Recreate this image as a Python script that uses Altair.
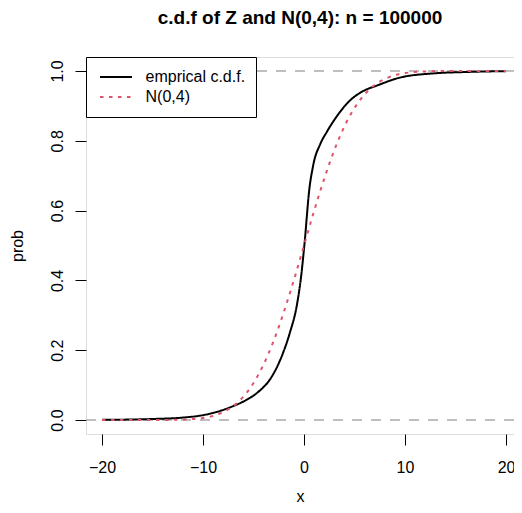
import altair as alt
import pandas as pd

# ---- data ----
series = ["emprical c.d.f.", "N(0,4)"]

emp_x = [-20, -17, -15, -12, -10, -8, -7, -6, -5, -4.35, -3.4, -2.2, -1.4, -0.7,
         -0.25, 0.0, 0.1, 0.3, 0.45, 0.9, 1.6, 2.25, 3.2, 4.5, 5.9, 7.2, 9.5,
         12.8, 16, 20]
emp_y = [0.0005, 0.0015, 0.003, 0.007, 0.014, 0.029, 0.040, 0.053, 0.070, 0.085,
         0.115, 0.183, 0.25, 0.33, 0.42, 0.49, 0.52, 0.59, 0.64, 0.728, 0.79,
         0.825, 0.868, 0.914, 0.943, 0.958, 0.981, 0.993, 0.997, 0.9995]

norm_x = [-20, -16, -14, -12, -11, -10, -9, -8, -7, -6, -5, -4, -3, -2, -1, 0,
          1, 2, 3, 4, 5, 6, 7, 8, 9, 10, 11, 12, 14, 16, 20]
norm_y = [0.0, 0.0, 0.0002, 0.0013, 0.003, 0.006, 0.012, 0.023, 0.040, 0.067,
          0.106, 0.159, 0.227, 0.309, 0.401, 0.5, 0.599, 0.691, 0.773, 0.841,
          0.894, 0.933, 0.960, 0.977, 0.988, 0.994, 0.997, 0.9987, 0.9998, 1.0, 1.0]

ref_y = [0.0, 1.0]

x_ticks = [-20, -10, 0, 10, 20]
y_ticks = [0.0, 0.2, 0.4, 0.6, 0.8, 1.0]

FONT = "Liberation Sans"

df = pd.concat([
    pd.DataFrame({"x": emp_x, "prob": emp_y, "series": series[0]}),
    pd.DataFrame({"x": norm_x, "prob": norm_y, "series": series[1]}),
], ignore_index=True)
ref = pd.DataFrame({"prob": ref_y})

xs = alt.Scale(domain=[-21.58, 20.79], nice=False, zero=False)
ys = alt.Scale(domain=[-0.04, 1.04], nice=False, zero=False)

x_axis = alt.Axis(values=x_ticks, title="x", grid=False, domain=False,
                  tickSize=11, tickColor="black", tickWidth=1,
                  labelFontSize=16, labelFont=FONT, labelColor="black",
                  labelPadding=14, labelFlush=False, labelOverlap=False,
                  titleFontSize=16, titleFont=FONT, titleFontWeight="normal",
                  titleColor="black", titleY=67, titleBaseline="alphabetic")
y_axis = alt.Axis(values=y_ticks, format=".1f", title="prob", grid=False,
                  domain=False, tickSize=11, tickColor="black", tickWidth=1,
                  labelFontSize=16, labelFont=FONT, labelColor="black",
                  labelAngle=270, labelAlign="center", labelBaseline="alphabetic",
                  labelPadding=13, labelFlush=False, labelOverlap=False,
                  titleFontSize=16, titleFont=FONT, titleFontWeight="normal",
                  titleColor="black", titleAngle=270, titleX=-64, titleY=188.5,
                  titleAlign="center", titleBaseline="alphabetic")

legend = alt.Legend(title=None, orient="none", legendX=0, legendY=0,
                    fillColor="white", strokeColor="black", padding=10,
                    symbolType="stroke", symbolSize=1024, symbolStrokeWidth=2,
                    clipHeight=20, rowPadding=-6, symbolOffset=3,
                    labelOffset=12.5, labelFontSize=16, labelFont=FONT,
                    labelColor="black", labelLimit=300)

color = alt.Color("series:N", scale=alt.Scale(domain=series, range=["#000000", "#DF536B"]),
                  legend=legend)
dash = alt.StrokeDash("series:N", scale=alt.Scale(domain=series, range=[[1, 0], [3.5, 5.5]]),
                      legend=legend)

rules = alt.Chart(ref).mark_rule(color="#A9A9A9", strokeDash=[10, 9], strokeWidth=1.5).encode(
    y=alt.Y("prob:Q", scale=ys, axis=y_axis)
)

base = alt.Chart(df)
emp = base.transform_filter(alt.datum.series == series[0]).mark_line(
    strokeWidth=2, clip=True, interpolate="monotone"
).encode(
    x=alt.X("x:Q", scale=xs, axis=x_axis),
    y=alt.Y("prob:Q", scale=ys, axis=y_axis),
    color=color, strokeDash=dash, order="x:Q"
)
nrm = base.transform_filter(alt.datum.series == series[1]).mark_line(
    strokeWidth=2, clip=True, interpolate="monotone"
).encode(
    x=alt.X("x:Q", scale=xs, axis=x_axis),
    y=alt.Y("prob:Q", scale=ys, axis=y_axis),
    color=color, strokeDash=dash, order="x:Q"
)

chart = alt.layer(rules, emp, nrm).properties(
    width=428, height=377,
    title=alt.TitleParams(text="c.d.f of Z and N(0,4): n = 100000", fontSize=19,
                          font=FONT, fontWeight="bold", color="black",
                          anchor="middle", offset=14, baseline="alphabetic"),
    autosize=alt.AutoSizeParams(type="none"),
    padding={"left": 78, "top": 49, "right": 0, "bottom": 71},
).configure_view(stroke="black", strokeWidth=1).configure(background="white")

chart.save("out.html", embed_options={"renderer": "svg", "actions": False})
